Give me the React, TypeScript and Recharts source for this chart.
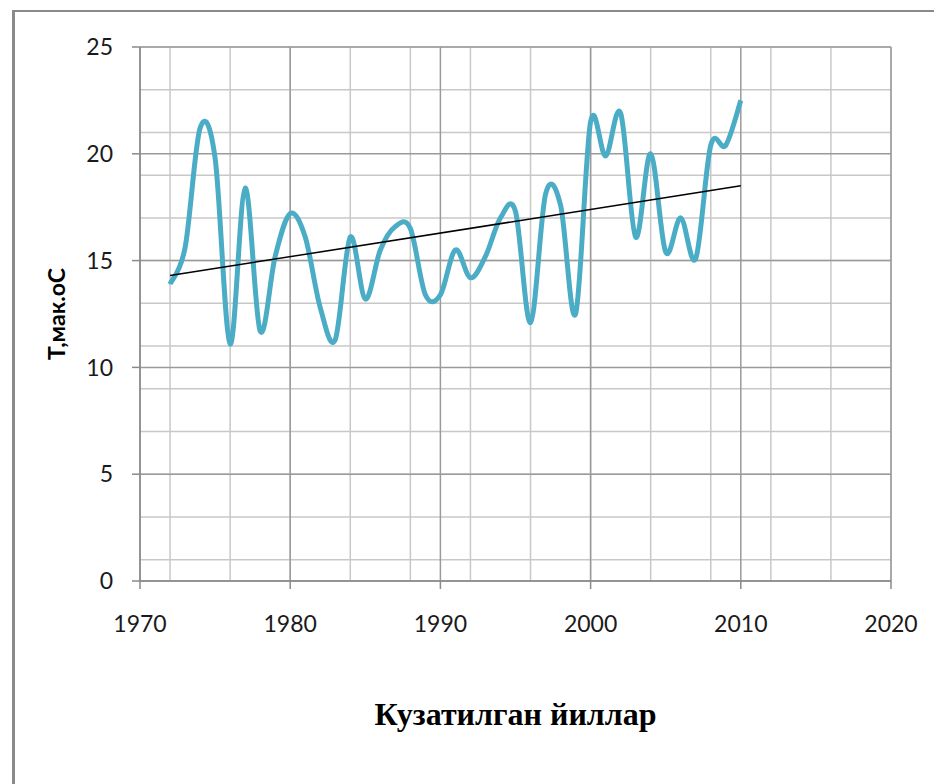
import { LineChart, Line, XAxis, YAxis, CartesianGrid } from 'recharts'

const years = [1972, 1973, 1974, 1975, 1976, 1977, 1978, 1979, 1980, 1981, 1982, 1983, 1984, 1985, 1986, 1987, 1988, 1989, 1990, 1991, 1992, 1993, 1994, 1995, 1996, 1997, 1998, 1999, 2000, 2001, 2002, 2003, 2004, 2005, 2006, 2007, 2008, 2009, 2010]
const tmax = [13.9, 15.6, 21.2, 19.8, 11.1, 18.4, 11.7, 15.2, 17.2, 16.1, 12.8, 11.3, 16.1, 13.2, 15.5, 16.6, 16.5, 13.4, 13.4, 15.5, 14.2, 15.2, 17.0, 17.3, 12.1, 18.1, 17.6, 12.5, 21.5, 19.9, 21.9, 16.1, 20.0, 15.4, 17.0, 15.1, 20.4, 20.4, 22.5]

// linear trend end points
const trendYears = [1972, 2010]
const trendVals = [14.3, 18.5]

const xTicks = [1970, 1980, 1990, 2000, 2010, 2020]
const yTicks = [0, 5, 10, 15, 20, 25]
const xMinor = [1970, 1972, 1974, 1976, 1978, 1980, 1982, 1984, 1986, 1988, 1990, 1992, 1994, 1996, 1998, 2000, 2002, 2004, 2006, 2008, 2010, 2012, 2014, 2016, 2018, 2020]
const yMinor = [0, 1, 2, 3, 4, 5, 6, 7, 8, 9, 10, 11, 12, 13, 14, 15, 16, 17, 18, 19, 20, 21, 22, 23, 24, 25]

const data = years.map((y, i) => ({ year: y, t: tmax[i] }))
const trend = trendYears.map((y, i) => ({ year: y, trend: trendVals[i] }))

// excel-like smoothed line (catmull-rom as beziers)
function smoothCurve(ctx: any) {
  let pts: number[][] = []
  return {
    areaStart() {},
    areaEnd() {},
    lineStart() { pts = [] },
    point(x: number, y: number) { pts.push([+x, +y]) },
    lineEnd() {
      if (!pts.length) return
      ctx.moveTo(pts[0][0], pts[0][1])
      for (let i = 0; i < pts.length - 1; i++) {
        const p0 = pts[Math.max(i - 1, 0)]
        const p1 = pts[i]
        const p2 = pts[i + 1]
        const p3 = pts[Math.min(i + 2, pts.length - 1)]
        ctx.bezierCurveTo(
          p1[0] + (p2[0] - p0[0]) / 6, p1[1] + (p2[1] - p0[1]) / 6,
          p2[0] - (p3[0] - p1[0]) / 6, p2[1] - (p3[1] - p1[1]) / 6,
          p2[0], p2[1]
        )
      }
    },
  }
}

const tickFont = { fontFamily: 'Lato, sans-serif', fontSize: 23, fill: '#1a1a1a' }

const yLabel = ({ viewBox }: any) => {
  const cy = viewBox.y + viewBox.height / 2
  return (
    <text x={65} y={cy} transform={`rotate(-90 65 ${cy})`} textAnchor="middle"
      style={{ fontFamily: 'Lato, sans-serif', fontWeight: 700, fontSize: 23, fill: '#000' }}>
      Т,мак.оС
    </text>
  )
}

const xLabel = ({ viewBox }: any) => (
  <text x={viewBox.x + viewBox.width / 2} y={725} textAnchor="middle"
    style={{ fontFamily: '"Liberation Serif", serif', fontWeight: 700, fontSize: 32, fill: '#000' }}>
    Кузатилган йиллар
  </text>
)

export default function App() {
  return (
    <div style={{ position: 'absolute', left: 0, top: 0, width: 934, height: 784, background: '#fff', overflow: 'hidden' }}>
      <div style={{ position: 'absolute', left: 12, top: 10, width: 940, height: 800, borderLeft: '3px solid #8a8a8a', borderTop: '2px solid #8a8a8a' }} />
      <LineChart width={934} height={784} margin={{ top: 47, right: 43, left: 0, bottom: 0 }}>
        <CartesianGrid horizontalValues={yMinor} verticalValues={xMinor} stroke="#c8c8c8" strokeWidth={1.5} />
        <CartesianGrid horizontalValues={yTicks} verticalValues={xTicks} stroke="#9a9a9a" strokeWidth={1.5} />
        <XAxis dataKey="year" type="number" domain={[1970, 2020]} ticks={xTicks} allowDataOverflow
          height={203} tickSize={8} tickMargin={27} tick={tickFont}
          axisLine={{ stroke: '#8a8a8a', strokeWidth: 1.5 }} tickLine={{ stroke: '#8a8a8a', strokeWidth: 1.5 }}
          label={xLabel} />
        <YAxis type="number" domain={[0, 25]} ticks={yTicks} width={140} tickSize={8} tickMargin={19} tick={tickFont}
          axisLine={{ stroke: '#8a8a8a', strokeWidth: 1.5 }} tickLine={{ stroke: '#8a8a8a', strokeWidth: 1.5 }}
          label={yLabel} />
        <Line data={data} dataKey="t" type={smoothCurve as any} stroke="#4bacc6" strokeWidth={5}
          dot={false} activeDot={false} isAnimationActive={false} />
        <Line data={trend} dataKey="trend" type="linear" stroke="#000" strokeWidth={1.5}
          dot={false} activeDot={false} isAnimationActive={false} />
      </LineChart>
    </div>
  )
}
